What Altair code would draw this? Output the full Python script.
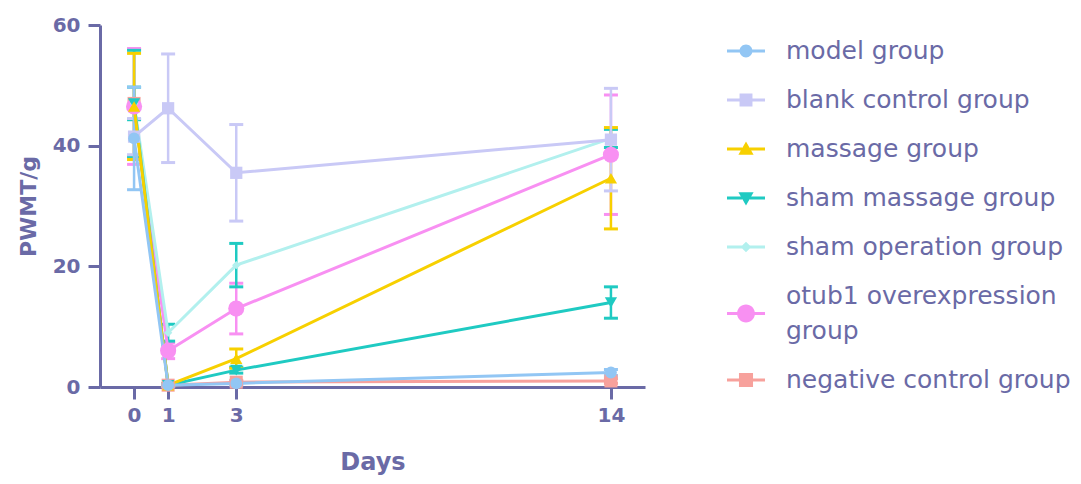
import altair as alt
import pandas as pd

# ---------------- data ----------------
groups = ["model group", "blank control group", "massage group", "sham massage group",
          "sham operation group", "otub1 overexpression group", "negative control group"]
days = [0, 1, 3, 14]

model = [41.2, 0.3, 0.6, 2.4]
model_sd = [8.5, 0.2, 0.3, 0.5]
blank = [41.5, 46.2, 35.5, 41.0]
blank_sd = [3.0, 9.0, 8.0, 8.5]
massage = [46.5, 0.3, 4.7, 34.6]
massage_sd = [8.8, 0.2, 1.6, 8.4]
sham_massage = [47.0, 0.3, 2.8, 14.0]
sham_massage_sd = [8.8, 0.2, 0.5, 2.6]
sham_operation = [47.0, 9.0, 20.2, 41.2]
sham_operation_sd = [2.7, 1.4, 3.6, 1.5]
otub1 = [46.5, 6.0, 13.0, 38.5]
otub1_sd = [9.6, 1.3, 4.2, 9.9]
negative = [47.0, 0.3, 0.8, 1.0]
negative_sd = [9.0, 0.2, 0.3, 0.4]

series = [model, blank, massage, sham_massage, sham_operation, otub1, negative]
series_sd = [model_sd, blank_sd, massage_sd, sham_massage_sd, sham_operation_sd, otub1_sd, negative_sd]

# ---------------- style ----------------
line_colors = ["#92c6f4", "#c9c9f6", "#f7d000", "#1fcac2", "#b2f0ee", "#f890f2", "#f7a19c"]
err_colors = ["#92c6f4", "#c9c9f6", "#f7d000", "#1fcac2", "#1fcac2", "#f890f2", "#f7a19c"]
point_shapes = ["circle", "square", "triangle-up", "triangle-down", "diamond", "circle", "square"]
point_sizes = [140, 150, 150, 150, 70, 260, 170]
draw_order = [6, 5, 4, 3, 2, 1, 0]

TXT = "#6a6aa6"
FONT = "DejaVu Sans"

# legend symbols: horizontal bar + marker (all filled, clockwise)
def bars(dy=0.0):
    a, b = dy - 0.08, dy + 0.08
    return f"M-1,{a}H-0.2V{b}H-1Z M0.2,{a}H1V{b}H0.2Z "
def circ(r, dy=0.0):
    return f"M0,{dy - r}A{r},{r} 0 1,1 0,{dy + r}A{r},{r} 0 1,1 0,{dy - r}Z"
def sq(s):
    return f"M-{s},-{s}H{s}V{s}H-{s}Z"
legend_paths = [
    bars() + circ(0.34),
    bars() + sq(0.34),
    bars() + "M0,-0.4L0.4,0.3H-0.4Z",
    bars() + "M-0.4,-0.3H0.4L0,0.4Z",
    bars() + "M0,-0.28L0.28,0L0,0.28L-0.28,0Z",
    bars(0.92) + circ(0.47, 0.92),
    bars() + sq(0.37),
]

rows = []
for g, vals, sds in zip(groups, series, series_sd):
    for d, v, s in zip(days, vals, sds):
        rows.append({"group": g, "day": d, "value": v, "lo": max(v - s, 0), "hi": v + s})
df = pd.DataFrame(rows)

xscale = alt.Scale(domain=[-1, 15], nice=False, zero=False)
yscale = alt.Scale(domain=[0, 60], nice=False, zero=True)
xenc = alt.X("day:Q", scale=xscale,
             axis=alt.Axis(values=days, title="Days", labelPadding=6, titlePadding=25,
                           titleFontSize=24))
yenc = alt.Y("value:Q", scale=yscale,
             axis=alt.Axis(values=[0, 20, 40, 60], title="PWMT/g", labelPadding=8,
                           titlePadding=12, titleFontSize=22))

base = alt.Chart(df)
layers = []
# error bars
for i in draw_order:
    g = groups[i]
    sub = base.transform_filter(alt.datum.group == g)
    layers.append(sub.mark_rule(color=err_colors[i], strokeWidth=2.5).encode(
        x=xenc, y=alt.Y("lo:Q", scale=yscale), y2="hi:Q"))
    layers.append(sub.mark_tick(color=err_colors[i], orient="horizontal", size=14,
                                thickness=3, opacity=1).encode(
        x=xenc, y=alt.Y("lo:Q", scale=yscale)))
    layers.append(sub.mark_tick(color=err_colors[i], orient="horizontal", size=14,
                                thickness=3, opacity=1).encode(
        x=xenc, y=alt.Y("hi:Q", scale=yscale)))
# lines
for i in draw_order:
    g = groups[i]
    sub = base.transform_filter(alt.datum.group == g)
    layers.append(sub.mark_line(color=line_colors[i], strokeWidth=3).encode(x=xenc, y=yenc))
# points
for i in draw_order:
    g = groups[i]
    sub = base.transform_filter(alt.datum.group == g)
    layers.append(sub.mark_point(color=line_colors[i], shape=point_shapes[i], filled=True,
                                 size=point_sizes[i], opacity=1).encode(x=xenc, y=yenc))

# legend layer (no marks drawn)
leg = dict(title=None, orient="none", legendX=627, legendY=7, padding=0,
           symbolSize=1444, symbolStrokeWidth=0, labelFont=FONT, labelFontSize=25,
           labelColor=TXT, labelOffset=21, labelLimit=500, rowPadding=17,
           labelExpr="datum.label == 'otub1 overexpression group' ? ['otub1 overexpression', 'group'] : datum.label")
legend_layer = alt.Chart(pd.DataFrame({"group": groups})).transform_filter("false").mark_point(
    filled=True, opacity=1).encode(
    color=alt.Color("group:N", scale=alt.Scale(domain=groups, range=line_colors), legend=alt.Legend(**leg)),
    shape=alt.Shape("group:N", scale=alt.Scale(domain=groups, range=legend_paths), legend=alt.Legend(**leg)),
)
layers.append(legend_layer)

chart = alt.layer(*layers).properties(
    width=545, height=362,
    autosize=alt.AutoSizeParams(type="none"),
    padding={"left": 92, "top": 17, "right": 428, "bottom": 89},
).configure(
    view=alt.ViewConfig(stroke=None),
    axis=alt.AxisConfig(
        grid=False, domainColor=TXT, tickColor=TXT, domainWidth=3, tickWidth=3, tickSize=12,
        labelFont=FONT, labelFontSize=20, labelFontWeight="bold", labelColor=TXT,
        titleFont=FONT, titleFontWeight="bold", titleColor=TXT,
    ),
    style={"guide-label": {"lineHeight": 35}},
)

chart.save("out.html", embed_options={"renderer": "svg", "actions": False})
